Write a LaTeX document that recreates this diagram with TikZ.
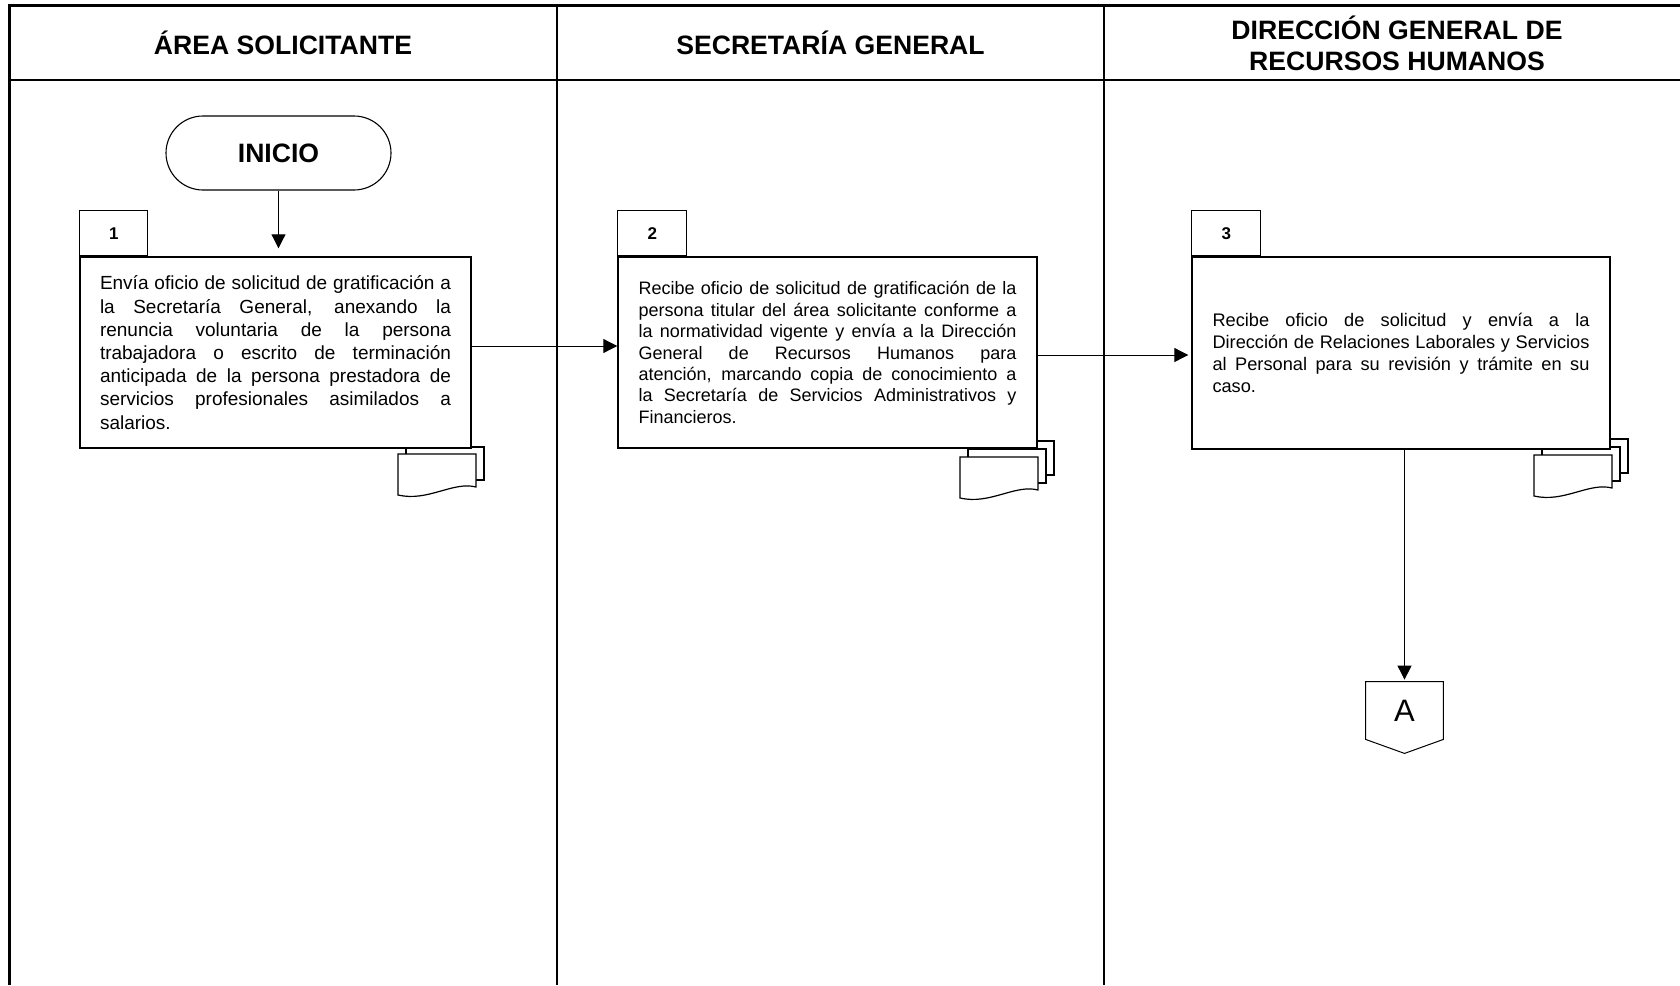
\documentclass[tikz,border=0pt]{standalone}
\usepackage{fontspec}
\setmainfont{Liberation Sans}
\usetikzlibrary{arrows.meta,calc}
\hyphenpenalty=10000 \exhyphenpenalty=10000 \tolerance=9999
\tikzset{
  frame/.style={line width=1.3pt},
  hdr/.style={font=\fontsize{13.3pt}{15.5pt}\selectfont\bfseries, align=center},
  actbox/.style={draw, line width=0.7pt, fill=white, align=justify, inner ysep=0pt},
  tabbox/.style={draw, line width=0.45pt, fill=white, anchor=south west, minimum height=22.5pt, inner sep=0pt, font=\fontsize{8.5pt}{10pt}\selectfont\bfseries},
  conn/.style={line width=0.5pt, -{Triangle[length=7pt,width=7pt]}},
  docline/.style={line width=0.6pt, fill=white},
  terminal/.style={draw, line width=0.55pt, rounded corners=18.5pt, minimum width=112.5pt, minimum height=37pt, font=\fontsize{13.3pt}{15.5pt}\selectfont\bfseries},
  offpage/.style={minimum width=38.5pt, minimum height=28.5pt, inner sep=0pt, font=\fontsize{15.5pt}{18pt}\selectfont},
  docs2/.pic={
    \draw[docline] (8,-7) rectangle (86,26);
    \draw[docline] (0,0) -- (78,0) -- (78,33) .. controls (55,27) and (30,48) .. (0,41) -- cycle;
  },
  docs3/.pic={
    \draw[docline] (16,-16) rectangle (94,18);
    \draw[docline] (8,-8) rectangle (86,26);
    \draw[docline] (0,0) -- (78,0) -- (78,33) .. controls (55,27) and (30,48) .. (0,41) -- cycle;
  }
}
\begin{document}
\begin{tikzpicture}[x=0.5pt,y=-0.5pt]
\useasboundingbox (0,0) rectangle (1680,985);
% frame and lanes
\draw[frame, line join=miter] (1680,5.5) -- (9.6,5.5) -- (9.6,985);
\draw[frame] (9.6,80) -- (1680,80);
\draw[frame] (557,5.5) -- (557,985);
\draw[frame] (1104,5.5) -- (1104,985);
% headers
\node[hdr] (h1) at (283,43) {ÁREA SOLICITANTE};
\node[hdr] (h2) at (830.5,43) {SECRETARÍA GENERAL};
\node[hdr] (h3) at (1397,43.5) {DIRECCIÓN GENERAL DE\\RECURSOS HUMANOS};
% start
\node[terminal] (inicio) at (278.5,153) {INICIO};
% document icons
\pic at (398,454) {docs2};
\pic at (960,457) {docs3};
\pic at (1534,455) {docs3};
% activity boxes
\node[actbox, text width=175.5pt, inner xsep=10pt, minimum height=95.5pt,
      font=\fontsize{9.5pt}{11.6pt}\selectfont] (box1) at (275.5,352.5)
 {Envía oficio de solicitud de gratificación a\linebreak
  la Secretaría General, anexando la\linebreak
  renuncia voluntaria de la persona\linebreak
  trabajadora o escrito de terminación\linebreak
  anticipada de la persona prestadora de\linebreak
  servicios profesionales asimilados a\linebreak
  salarios.};
\node[actbox, text width=189pt, inner xsep=10.25pt, minimum height=95.5pt,
      font=\fontsize{9.0pt}{10.7pt}\selectfont] (box2) at (827.5,352.5)
 {Recibe oficio de solicitud de gratificación de la\linebreak
  persona titular del área solicitante conforme a\linebreak
  la normatividad vigente y envía a la Dirección\linebreak
  General de Recursos Humanos para\linebreak
  atención, marcando copia de conocimiento a\linebreak
  la Secretaría de Servicios Administrativos y\linebreak
  Financieros.};
\node[actbox, text width=188.5pt, inner xsep=10.25pt, minimum height=96pt,
      font=\fontsize{9.1pt}{11pt}\selectfont] (box3) at (1401,353)
 {Recibe oficio de solicitud y envía a la\linebreak
  Dirección de Relaciones Laborales y Servicios\linebreak
  al Personal para su revisión y trámite en su\linebreak
  caso.};
% tabs
\node[tabbox, minimum width=34pt] (t1) at (box1.north west) {1};
\node[tabbox, minimum width=34.5pt] (t2) at (box2.north west) {2};
\node[tabbox, minimum width=34.5pt] (t3) at (box3.north west) {3};
% off-page connector
\node[offpage] (A) at (1404.5,710.5) {A};
\draw[line width=0.5pt] (A.north west) -- (A.north east) -- (A.south east) -- ([yshift=-7pt]A.south) -- (A.south west) -- cycle;
% connectors
\draw[conn, shorten >=4pt] (inicio.south) -- (inicio.south |- box1.north);
\draw[conn] ([yshift=3.25pt]box1.east) -- ([yshift=3.25pt]box1.east -| box2.west);
\draw[conn, shorten >=1.5pt] ([yshift=-1.25pt]box2.east) -- ([yshift=-1.25pt]box2.east -| box3.west);
\draw[conn, shorten >=1pt] (A.north |- box3.south) -- (A.north);
\end{tikzpicture}
\end{document}
